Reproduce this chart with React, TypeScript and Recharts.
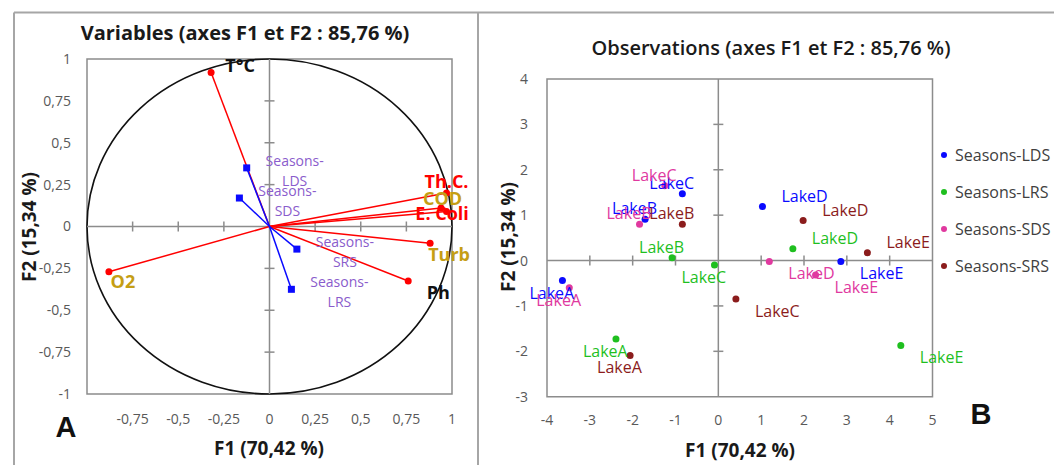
import React from "react";
import {
  ScatterChart,
  Scatter,
  XAxis,
  YAxis,
  ReferenceLine,
  ReferenceArea,
} from "recharts";

// ---------- Panel A : cercle des corrélations ----------
const VAR_NAMES = ["T°C", "Th.C.", "COD", "E. Coli", "Turb", "Ph", "O2"];
const VAR_F1 = [-0.32, 0.97, 0.97, 0.94, 0.88, 0.76, -0.88];
const VAR_F2 = [0.92, 0.2, 0.09, 0.11, -0.1, -0.325, -0.27];

// variables supplémentaires (saisons)
const SUP_NAMES = ["Seasons-LDS", "Seasons-SDS", "Seasons-SRS", "Seasons-LRS"];
const SUP_F1 = [-0.125, -0.165, 0.15, 0.12];
const SUP_F2 = [0.35, 0.17, -0.135, -0.375];

const CORR_TICKS = [-1, -0.75, -0.5, -0.25, 0, 0.25, 0.5, 0.75, 1];

// ---------- Panel B : observations ----------
const LAKES = ["LakeA", "LakeB", "LakeC", "LakeD", "LakeE"];
const SEASONS = ["Seasons-LDS", "Seasons-LRS", "Seasons-SDS", "Seasons-SRS"];
const LDS_F1 = [-3.64, -1.71, -0.84, 1.03, 2.86];
const LDS_F2 = [-0.44, 0.91, 1.47, 1.19, -0.02];
const LRS_F1 = [-2.39, -1.08, -0.09, 1.74, 4.26];
const LRS_F2 = [-1.73, 0.06, -0.1, 0.26, -1.87];
const SDS_F1 = [-3.48, -1.84, -1.25, 1.19, 2.27];
const SDS_F2 = [-0.6, 0.8, 1.65, -0.02, -0.32];
const SRS_F1 = [-2.06, -0.84, 0.41, 1.98, 3.48];
const SRS_F2 = [-2.09, 0.8, -0.85, 0.88, 0.17];

const OBS_X_TICKS = [-4, -3, -2, -1, 0, 1, 2, 3, 4, 5];
const OBS_Y_TICKS = [-3, -2, -1, 0, 1, 2, 3, 4];

// ---------- styles ----------
const FONT = "'Open Sans', 'DejaVu Sans', sans-serif";
const FRAME = "#8c8c8c";
const RED = "#ff0000";
const GOLD = "#c59e14";
const BLUE = "#0a0aff";
const PURPLE = "#8a5ccc";
const TICK_STYLE = { fontSize: 14, fill: "#595959", fontFamily: FONT };

const SEASON_COLOR: Record<string, string> = {
  "Seasons-LDS": "#0a0aff",
  "Seasons-LRS": "#1fbf1f",
  "Seasons-SDS": "#e0399f",
  "Seasons-SRS": "#8b1c1c",
};

const VAR_LABEL_COLOR: Record<string, string> = {
  "T°C": "#111",
  "Th.C.": RED,
  COD: GOLD,
  "E. Coli": RED,
  Turb: GOLD,
  Ph: "#111",
  O2: GOLD,
};

// décalage (px) du libellé par rapport au point
const VAR_LABEL_OFFSET: Record<string, [number, number]> = {
  "T°C": [29, -7],
  "Th.C.": [0, -12],
  COD: [-4, -13],
  "E. Coli": [1, 5],
  Turb: [19, 11],
  Ph: [30, 11],
  O2: [14, 9],
};

// ul = en haut à gauche, ll = en bas à gauche, ur / lr = à droite
const LAKE_LABEL_POS: Record<string, string[]> = {
  "Seasons-LDS": ["ll", "ul", "ul", "ur", "lr"],
  "Seasons-LRS": ["ll", "ul", "ll", "ur", "lr"],
  "Seasons-SDS": ["ll", "ul", "ul", "lr", "lr"],
  "Seasons-SRS": ["ll", "ul", "lr", "ur", "ur"],
};

const fmt = (v: number) => String(v).replace(".", ",");

const ORIGIN = { x: 0, y: 0, origin: true };

function seasonData(season: string) {
  const f1 = { "Seasons-LDS": LDS_F1, "Seasons-LRS": LRS_F1, "Seasons-SDS": SDS_F1, "Seasons-SRS": SRS_F1 }[season]!;
  const f2 = { "Seasons-LDS": LDS_F2, "Seasons-LRS": LRS_F2, "Seasons-SDS": SDS_F2, "Seasons-SRS": SRS_F2 }[season]!;
  return LAKES.map((lake, i) => ({ x: f1[i], y: f2[i], lake, pos: LAKE_LABEL_POS[season][i] }));
}

function CircleShape(p: any) {
  return (
    <ellipse
      cx={p.x + p.width / 2}
      cy={p.y + p.height / 2}
      rx={p.width / 2}
      ry={p.height / 2}
      fill="none"
      stroke="#111"
      strokeWidth={1.6}
    />
  );
}

const VTick = (p: any) => (
  <line x1={p.cx} x2={p.cx} y1={p.cy - 5} y2={p.cy + 5} stroke={FRAME} strokeWidth={1.5} />
);
const HTick = (p: any) => (
  <line x1={p.cx - 5} x2={p.cx + 5} y1={p.cy} y2={p.cy} stroke={FRAME} strokeWidth={1.5} />
);

const VarDot = (p: any) =>
  p.payload?.origin ? <g /> : <circle cx={p.cx} cy={p.cy} r={3.5} fill={RED} />;

const SupSquare = (p: any) =>
  p.payload?.origin ? <g /> : <rect x={p.cx - 3.5} y={p.cy - 3.5} width={7} height={7} fill={BLUE} />;

const VarLabel = (p: any) => {
  const name = p.payload.name;
  const [dx, dy] = VAR_LABEL_OFFSET[name];
  return (
    <text
      x={p.cx + dx}
      y={p.cy + dy}
      textAnchor="middle"
      dominantBaseline="central"
      fontSize={18}
      fontWeight={700}
      fontFamily={FONT}
      fill={VAR_LABEL_COLOR[name]}
    >
      {name}
    </text>
  );
};

const SupLabel = (p: any) => {
  const [head, tail] = p.payload.name.split("-");
  return (
    <text textAnchor="middle" dominantBaseline="central" fontSize={14} fontFamily={FONT} fill={PURPLE}>
      <tspan x={p.cx + 48} y={p.cy - 8}>{head}-</tspan>
      <tspan x={p.cx + 48} y={p.cy + 12}>{tail}</tspan>
    </text>
  );
};

function makeLakeDot(color: string) {
  return (p: any) => <circle cx={p.cx} cy={p.cy} r={3.5} fill={color} />;
}

function makeLakeLabel(color: string) {
  return (p: any) => {
    const pos: string = p.payload.pos;
    const dx = pos[1] === "l" ? -33 : 19;
    const dy = pos[0] === "u" ? -11 : 12;
    return (
      <text
        x={p.cx + dx}
        y={p.cy + dy}
        dominantBaseline="central"
        fontSize={16}
        fontFamily={FONT}
        fill={color}
      >
        {p.payload.lake}
      </text>
    );
  };
}

function VariablesChart() {
  const inner = CORR_TICKS.filter((t) => t !== 0 && Math.abs(t) !== 1);
  return (
    <ScatterChart width={478} height={465} margin={{ top: 59, right: 26, bottom: 41, left: 27 }}>
      <XAxis
        type="number"
        dataKey="x"
        domain={[-1, 1]}
        ticks={CORR_TICKS}
        interval={0}
        tickFormatter={(v) => (v === -1 ? "" : fmt(v))}
        axisLine={false}
        tickLine={false}
        tickSize={0}
        tickMargin={20}
        height={30}
        tick={TICK_STYLE}
      />
      <YAxis
        type="number"
        dataKey="y"
        domain={[-1, 1]}
        ticks={CORR_TICKS}
        interval={0}
        tickFormatter={fmt}
        axisLine={false}
        tickLine={false}
        tickSize={0}
        tickMargin={16}
        width={60}
        tick={TICK_STYLE}
      />
      <ReferenceArea x1={-1} x2={1} y1={-1} y2={1} fill="none" stroke={FRAME} strokeWidth={1.5} />
      <ReferenceArea x1={-1} x2={1} y1={-1} y2={1} shape={CircleShape} />
      <ReferenceLine x={0} stroke={FRAME} strokeWidth={1.5} />
      <ReferenceLine y={0} stroke={FRAME} strokeWidth={1.5} />
      <Scatter data={inner.map((t) => ({ x: t, y: 0 }))} shape={VTick} isAnimationActive={false} legendType="none" />
      <Scatter data={inner.map((t) => ({ x: 0, y: t }))} shape={HTick} isAnimationActive={false} legendType="none" />
      {VAR_NAMES.map((name, i) => (
        <Scatter
          key={name}
          name={name}
          data={[ORIGIN, { x: VAR_F1[i], y: VAR_F2[i] }]}
          line={{ stroke: RED, strokeWidth: 1.5 }}
          shape={VarDot}
          isAnimationActive={false}
          legendType="none"
        />
      ))}
      {SUP_NAMES.map((name, i) => (
        <Scatter
          key={name}
          name={name}
          data={[ORIGIN, { x: SUP_F1[i], y: SUP_F2[i] }]}
          line={{ stroke: BLUE, strokeWidth: 1.5 }}
          shape={SupSquare}
          isAnimationActive={false}
          legendType="none"
        />
      ))}
      <Scatter
        data={SUP_NAMES.map((name, i) => ({ x: SUP_F1[i], y: SUP_F2[i], name }))}
        shape={SupLabel}
        isAnimationActive={false}
        legendType="none"
      />
      <Scatter
        data={VAR_NAMES.map((name, i) => ({ x: VAR_F1[i], y: VAR_F2[i], name }))}
        shape={VarLabel}
        isAnimationActive={false}
        legendType="none"
      />
    </ScatterChart>
  );
}

function ObservationsChart() {
  const xin = OBS_X_TICKS.filter((t) => t !== 0 && t !== -4 && t !== 5);
  const yin = OBS_Y_TICKS.filter((t) => t !== 0 && t !== -3 && t !== 4);
  return (
    <ScatterChart width={576} height={465} margin={{ top: 79, right: 121.5, bottom: 38.3, left: 19 }}>
      <XAxis
        type="number"
        dataKey="x"
        domain={[-4, 5]}
        ticks={OBS_X_TICKS}
        interval={0}
        axisLine={false}
        tickLine={false}
        tickSize={0}
        tickMargin={18}
        height={30}
        tick={TICK_STYLE}
      />
      <YAxis
        type="number"
        dataKey="y"
        domain={[-3, 4]}
        ticks={OBS_Y_TICKS}
        interval={0}
        axisLine={false}
        tickLine={false}
        tickSize={0}
        tickMargin={19}
        width={50}
        tick={TICK_STYLE}
      />
      <ReferenceArea x1={-4} x2={5} y1={-3} y2={4} fill="none" stroke={FRAME} strokeWidth={1.5} />
      <ReferenceLine x={0} stroke={FRAME} strokeWidth={1.5} />
      <ReferenceLine y={0} stroke={FRAME} strokeWidth={1.5} />
      <Scatter data={xin.map((t) => ({ x: t, y: 0 }))} shape={VTick} isAnimationActive={false} legendType="none" />
      <Scatter data={yin.map((t) => ({ x: 0, y: t }))} shape={HTick} isAnimationActive={false} legendType="none" />
      {SEASONS.map((s) => (
        <Scatter
          key={s}
          name={s}
          data={seasonData(s)}
          shape={makeLakeDot(SEASON_COLOR[s])}
          isAnimationActive={false}
        />
      ))}
      {SEASONS.map((s) => (
        <Scatter
          key={s + "-labels"}
          data={seasonData(s)}
          shape={makeLakeLabel(SEASON_COLOR[s])}
          isAnimationActive={false}
          legendType="none"
        />
      ))}
    </ScatterChart>
  );
}

function Overlay() {
  const title = { fontFamily: FONT, fill: "#1a1a1a", textAnchor: "middle" as const, dominantBaseline: "central" as const };
  return (
    <svg width={1054} height={465} style={{ position: "absolute", left: 0, top: 0, pointerEvents: "none" }}>
      <path d="M14 12.5 H1054 M14 12.5 V465 M478 12.5 V465" stroke="#a6a6a6" strokeWidth={2} fill="none" />
      <text x={245} y={32} fontSize={20} fontWeight={700} {...title}>
        Variables (axes F1 et F2 : 85,76 %)
      </text>
      <text x={771} y={47} fontSize={20} fontWeight={600} {...title}>
        Observations (axes F1 et F2 : 85,76 %)
      </text>
      <text x={269} y={448} fontSize={19} fontWeight={700} {...title}>F1 (70,42 %)</text>
      <text x={740} y={450} fontSize={19} fontWeight={700} {...title}>F1 (70,42 %)</text>
      <text x={29} y={227} fontSize={19} fontWeight={700} {...title} transform="rotate(-90 29 227)">F2 (15,34 %)</text>
      <text x={508} y={237} fontSize={19} fontWeight={700} {...title} transform="rotate(-90 508 237)">F2 (15,34 %)</text>
      <text x={66} y={427} fontSize={29} fontWeight={700} fontFamily="'Liberation Sans', Arial, sans-serif" textAnchor="middle" dominantBaseline="central" fill="#111">A</text>
      <text x={981} y={414} fontSize={29} fontWeight={700} fontFamily="'Liberation Sans', Arial, sans-serif" textAnchor="middle" dominantBaseline="central" fill="#111">B</text>
      {SEASONS.map((s, i) => (
        <g key={s}>
          <circle cx={944} cy={155 + i * 37} r={3} fill={SEASON_COLOR[s]} />
          <text x={955} y={155 + i * 37} fontSize={16} fontFamily={FONT} fill="#404040" dominantBaseline="central">
            {s}
          </text>
        </g>
      ))}
    </svg>
  );
}

export default function App() {
  return (
    <div
      style={{
        position: "absolute",
        left: 0,
        top: 0,
        width: 1054,
        height: 465,
        background: "#fff",
        fontFamily: FONT,
        overflow: "hidden",
      }}
    >
      <div style={{ position: "absolute", left: 0, top: 0 }}>
        <VariablesChart />
      </div>
      <div style={{ position: "absolute", left: 478, top: 0 }}>
        <ObservationsChart />
      </div>
      <Overlay />
    </div>
  );
}
